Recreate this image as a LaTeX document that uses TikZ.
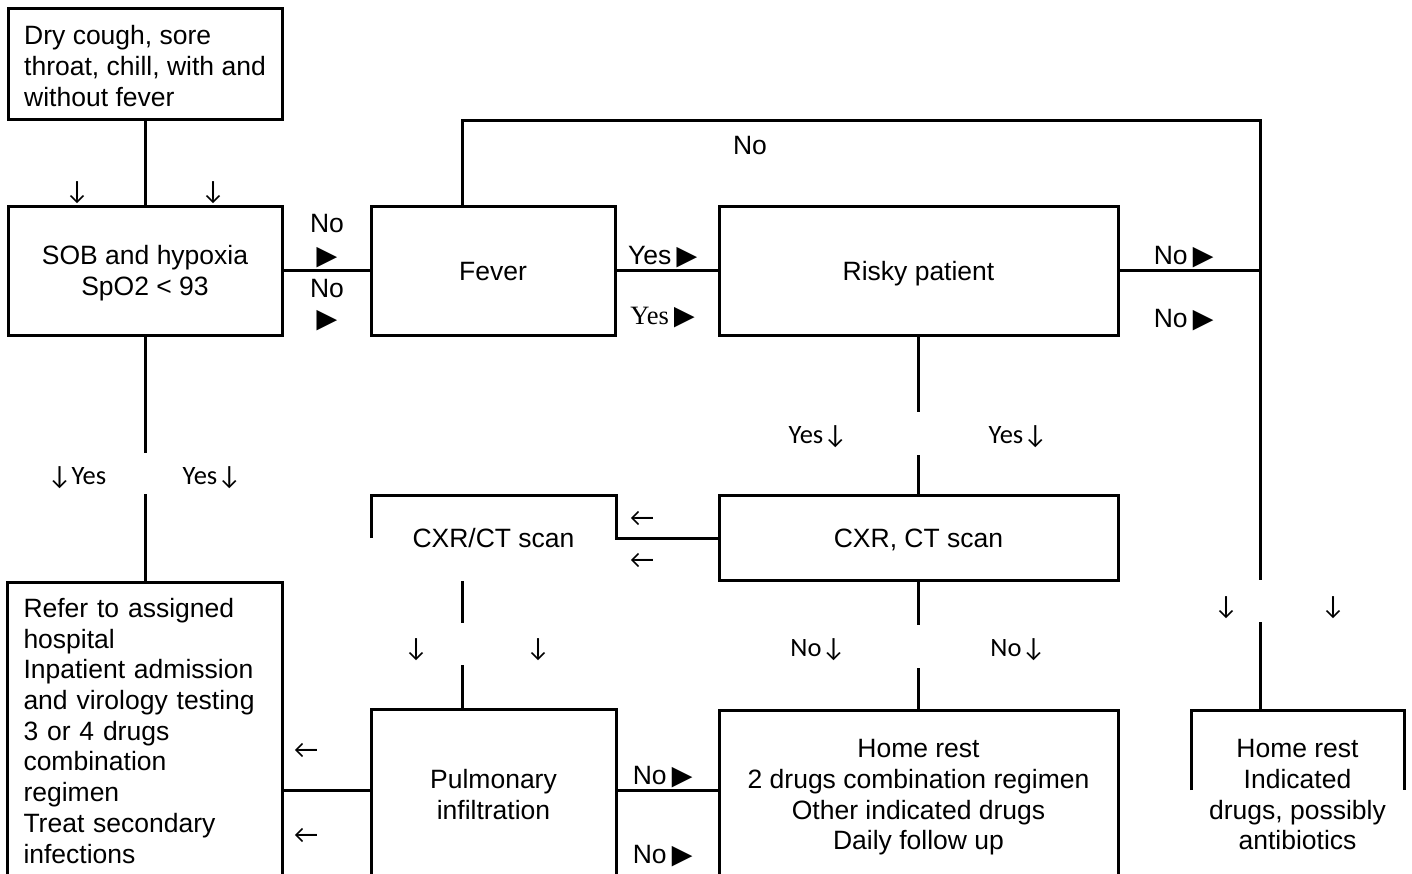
\documentclass[tikz,border=0pt]{standalone}
\usepackage{graphicx}
\usepackage{fontspec}
\setmainfont{Liberation Sans}
\newfontfamily\calfont{Carlito}
\newfontfamily\serfont{Liberation Serif}
\newcommand\trig{\raisebox{-2.9pt}{\scalebox{1.3}{►}}}
\newcommand\tri{\kern-1.5pt\trig}
\newcommand\lnst{\rule[-5.6pt]{0pt}{29.6pt}}
\usetikzlibrary{calc}
\begin{document}
\begin{tikzpicture}[x=1pt,y=-1pt,line width=3pt,
  every node/.style={font=\fontsize{26.5}{30.7}\selectfont,inner sep=0pt,outer sep=0pt,
    execute at begin node=\lnst,execute at end node=\lnst},
  nostrut/.style={execute at begin node={},execute at end node={}},
  box/.style={draw,rectangle,line width=3pt},
  open/.style={rectangle}]
\useasboundingbox (0,0) rectangle (1412,874);
\clip (0,0) rectangle (1412,874);
\fill[white] (0,0) rectangle (1412,874);

% boxes
\node[box,minimum width=274,minimum height=111,align=left] (b1) at (145,64.5)
  {\rule{0pt}{28pt}Dry cough, sore\\throat, chill, with and\\without fever};
\node[box,minimum width=274,minimum height=128,align=center] (sob) at (145,271)
  {\lnst SOB and hypoxia\\SpO2 < 93};
\node[box,minimum width=244,minimum height=128] (fever) at (493,271) {Fever};
\node[box,minimum width=399,minimum height=128] (risky) at (918.5,271) {Risky patient};
\node[box,minimum width=399,minimum height=85] (cxr) at (918.5,538) {CXR, CT scan};
\node[open,minimum width=245,minimum height=86] (cxrct) at (493.5,538) {CXR/CT scan};
\node[box,text width=243pt,inner xsep=16pt,minimum height=297,align=left] (refer) at (145,731)
  {Refer to assigned\\hospital\\Inpatient admission\\and virology testing\\3 or 4 drugs\\combination\\regimen\\Treat secondary\\infections};
\node[box,minimum width=245,minimum height=172,align=center] (pulm) at (493.5,795)
  {\lnst Pulmonary\\infiltration};
\node[box,minimum width=399,minimum height=169,align=center] (hr1) at (918.5,794.5)
  {\lnst Home rest\\2 drugs combination regimen\\Other indicated drugs\\Daily follow up};
\node[open,minimum width=213,minimum height=169,align=center] (hr2) at (1297.5,794.5)
  {\lnst Home rest\\Indicated\\drugs, possibly\\antibiotics};

% partial borders
\draw (cxrct.west) -- (cxrct.north west) -- (cxrct.north east) -- (cxrct.east) -- (cxr.west);
\draw ($(hr2.north west)+(0,80)$) -- (hr2.north west) -- (hr2.north east) -- ($(hr2.north east)+(0,80)$);

% coordinates
\coordinate (tl) at (462,121);
\coordinate (tr) at (1260,121);
\coordinate (rg1) at (1260,580);
\coordinate (rg2) at (1260,622);
\coordinate (sg1) at (145,453);
\coordinate (sg2) at (145,494);
\coordinate (yg1) at (918.5,412);
\coordinate (yg2) at (918.5,455);
\coordinate (ng1) at (918.5,625);
\coordinate (ng2) at (918.5,668);
\coordinate (cg1) at (462,581);
\coordinate (cg2) at (462,623);
\coordinate (cg3) at (462,665);

% connectors
\draw (b1.south) -- (sob.north);
\draw (sob.east) -- (fever.west);
\draw (fever.east) -- (risky.west);
\draw (fever.north -| tl) -- (tl) -- (tr) -- (rg1);
\draw (rg2) -- (rg2 |- hr2.north);
\draw (risky.east) -- (risky.east -| tr);
\draw (risky.south) -- (yg1);
\draw (yg2) -- (cxr.north);
\draw (cxr.south) -- (ng1);
\draw (ng2) -- (hr1.north);
\draw (sob.south) -- (sg1);
\draw (sg2) -- (refer.north);
\draw (cg1) -- (cg2);
\draw (cg3) -- (cg3 |- pulm.north);
\draw ([yshift=5pt]pulm.west) -- ([yshift=5pt]pulm.west -| refer.east);
\draw ([yshift=5pt]pulm.east) -- ([yshift=5pt]pulm.east -| hr1.west);

% labels
\node (l1) at (77,190) {\calfont ↓};
\node (l2) at (213,190) {\calfont ↓};
\node (l3) at (327,223) {No};
\node (l4) at (327,255) {\trig};
\node (l5) at (327,288) {No};
\node (l6) at (327,318) {\trig};
\node (l7) at (666,255) {Yes\tri};
\node (l8) at (666,315) {{\serfont Yes}\tri};
\node (l9) at (750,145) {No};
\node (l10) at (1187,255) {No\tri};
\node (l11) at (1187,318) {No\tri};
\node (l12) at (818,434) {\calfont Yes↓};
\node (l13) at (1018,434) {\calfont Yes↓};
\node (l14) at (77,475) {\calfont ↓Yes};
\node (l15) at (212,475) {\calfont Yes↓};
\node (l16) at (642,517) {\calfont ←};
\node (l17) at (642,559) {\calfont ←};
\node (l18) at (416,647) {\calfont ↓};
\node (l19) at (538,647) {\calfont ↓};
\node (l20) at (818,647) {\calfont No↓};
\node (l21) at (1018,647) {\calfont No↓};
\node (l22) at (1226,605) {\calfont ↓};
\node (l23) at (1333,605) {\calfont ↓};
\node (l24) at (306,749) {\calfont ←};
\node (l25) at (306,834) {\calfont ←};
\node (l26) at (666,775) {No\tri};
\node[nostrut] (l27) at (666,854) {No\smash{\tri}};
\end{tikzpicture}
\end{document}
